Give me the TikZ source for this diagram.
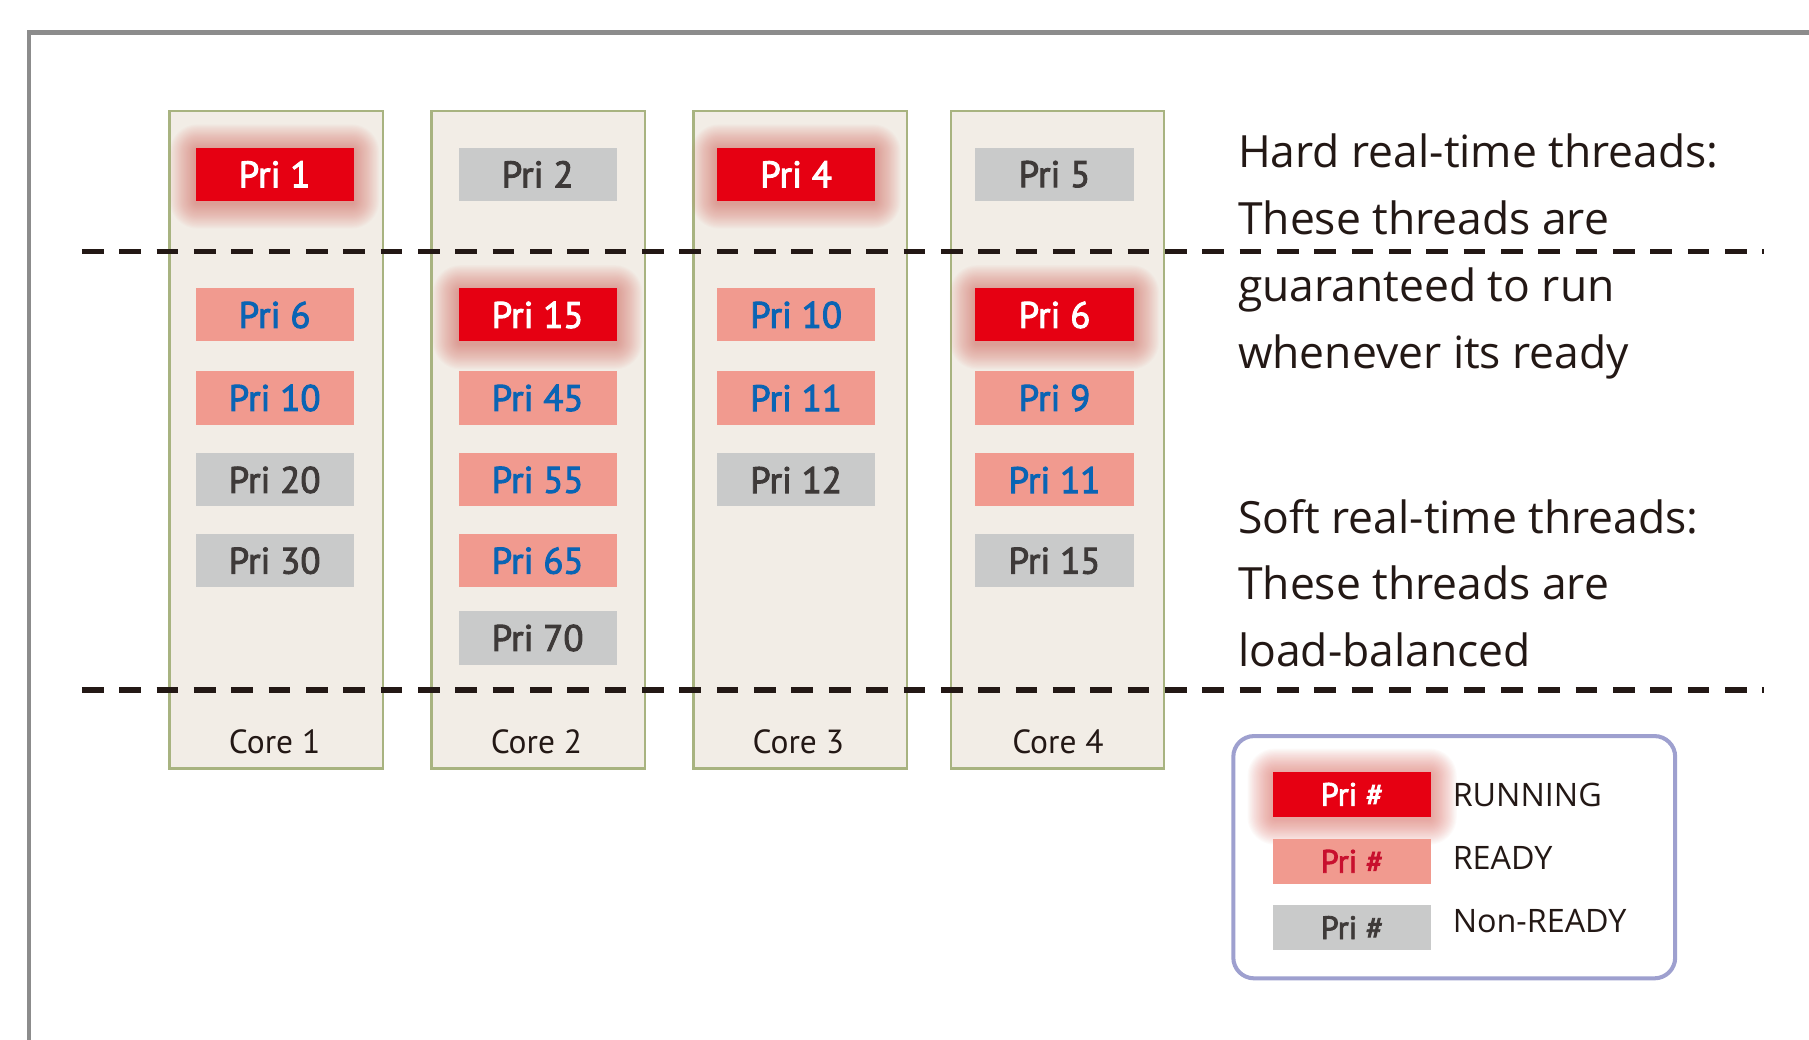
\documentclass[tikz,border=0pt]{standalone}
\usepackage{fontspec}
\setmainfont{Open Sans}
\newfontfamily\prifont{PT Sans}
\newfontfamily\prisemi{PT Sans}[FakeBold=2.6]
\usetikzlibrary{calc}
\definecolor{runred}{HTML}{E60012}
\definecolor{readyfill}{HTML}{F19A8F}
\definecolor{grayfill}{HTML}{C9CACA}
\definecolor{bluetxt}{HTML}{0A64B4}
\definecolor{darktxt}{HTML}{3E3A39}
\definecolor{corefill}{HTML}{F2EDE6}
\definecolor{coreline}{HTML}{A8B380}
\definecolor{framegray}{HTML}{8C8C8C}
\definecolor{dashcol}{HTML}{231815}
\definecolor{legline}{HTML}{9EA0CF}
\definecolor{legred}{HTML}{C8102E}
\definecolor{glowcol}{HTML}{DC6258}
\definecolor{bodytxt}{HTML}{231815}
\pgfdeclarelayer{bg}
\pgfdeclarelayer{glowlayer}
\pgfsetlayers{bg,glowlayer,main}
\tikzset{
  pribox/.style={rectangle, minimum width=137pt, minimum height=46pt, inner sep=0pt,
    font=\prisemi\fontsize{32}{32}\selectfont},
  run/.style={pribox, fill=runred, text=white},
  ready/.style={pribox, fill=readyfill, text=bluetxt},
  nready/.style={pribox, fill=grayfill, text=darktxt},
  legbox/.style={rectangle, minimum width=137pt, minimum height=39pt, inner sep=0pt,
    font=\prisemi\fontsize{28}{28}\selectfont},
  corebox/.style={draw=coreline, line width=2pt, fill=corefill},
  corelabel/.style={font=\prifont\fontsize{29}{29}\selectfont, text=bodytxt, inner sep=0pt},
  sidetext/.style={anchor=base west, inner sep=0pt, text=bodytxt, font=\fontsize{38.5}{38.5}\selectfont},
  legtext/.style={anchor=west, inner sep=0pt, text=bodytxt, font=\fontsize{28}{28}\selectfont},
  divider/.style={draw=dashcol, line width=4.5pt, dash pattern=on 18.8pt off 13.57pt},
}
\newcommand\glowof[1]{%
  \begin{pgfonlayer}{glowlayer}
  \foreach \r in {1,...,22}{%
    \fill[glowcol, opacity=0.03, rounded corners={(\r+2)*1pt}]
      ([xshift={-\r*1pt}, yshift={-(\r+2)*1pt}]#1.south west) rectangle
      ([xshift={\r*1pt}, yshift={(\r-2)*1pt}]#1.north east);
  }
  \end{pgfonlayer}}
\begin{document}
\begin{tikzpicture}[x=1pt, y=-1pt]
\useasboundingbox (0,0) rectangle (1568,901);
\clip (0,0) rectangle (1568,901);
\begin{pgfonlayer}{bg}
\fill[white] (0,0) rectangle (1568,901);
% outer frame
\draw[framegray, line width=4pt] (25,910) -- (25,28) -- (1580,28);
% cores
\draw[corebox] (147,96) rectangle (332,666);
\draw[corebox] (374,96) rectangle (559,666);
\draw[corebox] (601,96) rectangle (786,666);
\draw[corebox] (824,96) rectangle (1009,666);
\end{pgfonlayer}
% core labels
\node[corelabel] (c1) at (238,643) {Core 1};
\node[corelabel] (c2) at (465,643) {Core 2};
\node[corelabel] (c3) at (692,643) {Core 3};
\node[corelabel] (c4) at (917,643) {Core 4};
% core 1
\node[run]    (a0) at (238,151) {Pri 1};
\node[ready]  (a1) at (238,273) {Pri 6};
\node[ready]  (a2) at (238,345) {Pri 10};
\node[nready] (a3) at (238,416) {Pri 20};
\node[nready] (a4) at (238,486) {Pri 30};
% core 2
\node[nready] (b0) at (466,151) {Pri 2};
\node[run]    (b1) at (466,273) {Pri 15};
\node[ready]  (b2) at (466,345) {Pri 45};
\node[ready]  (b3) at (466,416) {Pri 55};
\node[ready]  (b4) at (466,486) {Pri 65};
\node[nready] (b5) at (466,553) {Pri 70};
% core 3
\node[run]    (d0) at (690,151) {Pri 4};
\node[ready]  (d1) at (690,273) {Pri 10};
\node[ready]  (d2) at (690,345) {Pri 11};
\node[nready] (d3) at (690,416) {Pri 12};
% core 4
\node[nready] (e0) at (914,151) {Pri 5};
\node[run]    (e1) at (914,273) {Pri 6};
\node[ready]  (e2) at (914,345) {Pri 9};
\node[ready]  (e3) at (914,416) {Pri 11};
\node[nready] (e4) at (914,486) {Pri 15};
\glowof{a0}\glowof{b1}\glowof{d0}\glowof{e1}
% dividers
\coordinate (h1) at (71,218);
\coordinate (h2) at (1529,218);
\coordinate (s1) at (71,598);
\coordinate (s2) at (1529,598);
\draw[divider] (h1) -- (h2);
\draw[divider] (s1) -- (s2);
% side text
\node[sidetext] (t1) at (1073,145) {Hard real-time threads:};
\node[sidetext] (t2) at (1073,203) {These threads are};
\node[sidetext] (t3) at (1073,261) {guaranteed to run};
\node[sidetext] (t4) at (1073,319) {whenever its ready};
\node[sidetext] (t5) at (1073,462) {Soft real-time threads:};
\node[sidetext] (t6) at (1073,520) {These threads are};
\node[sidetext] (t7) at (1073,578) {load-balanced};
% legend
\begin{pgfonlayer}{bg}
\draw[legline, line width=3.5pt, rounded corners=18pt, fill=white] (1069,638) rectangle (1452,848);
\end{pgfonlayer}
\node[legbox, fill=runred, text=white] (l1) at (1172,688.5) {Pri \#};
\node[legbox, fill=readyfill, text=legred] (l2) at (1172,746.5) {Pri \#};
\node[legbox, fill=grayfill, text=darktxt] (l3) at (1172,804) {Pri \#};
\glowof{l1}
\node[legtext] (m1) at (1259,689) {RUNNING};
\node[legtext] (m2) at (1259,744) {READY};
\node[legtext] (m3) at (1259,798) {Non-READY};
\end{tikzpicture}
\end{document}
